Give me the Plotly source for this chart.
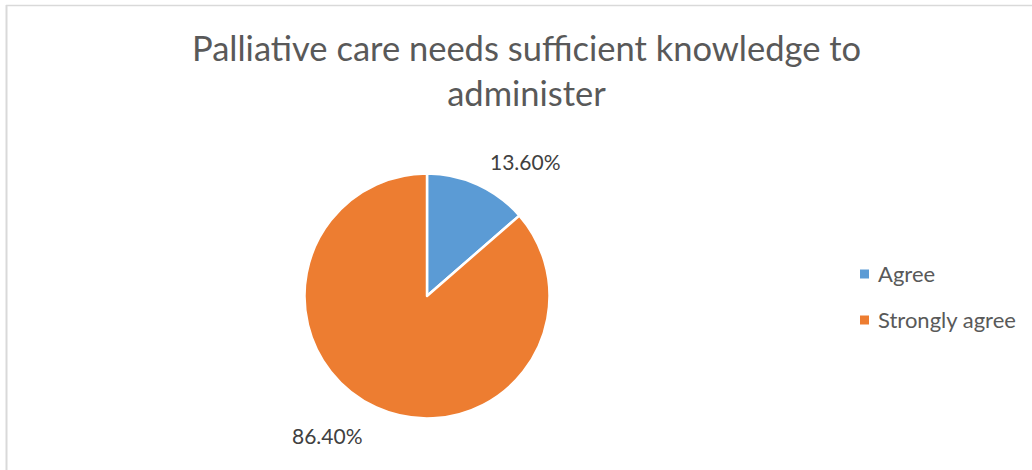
import plotly.graph_objects as go

# Survey responses
categories = ["Agree", "Strongly agree"]
shares = [13.6, 86.4]
slice_colors = ["#5B9BD5", "#ED7D31"]
title_lines = ["Palliative care needs sufficient knowledge to", "administer"]

W, H = 1032, 470


def px(x):
    return x / W


def py(y):
    return 1 - y / H


cx, cy, r = 427, 296, 122.5

fig = go.Figure(
    go.Pie(
        labels=categories,
        values=shares,
        sort=False,
        direction="clockwise",
        rotation=0,
        marker=dict(colors=slice_colors, line=dict(color="white", width=2.5)),
        textinfo="none",
        hoverinfo="label+percent",
        showlegend=False,
        domain=dict(x=[px(cx - r), px(cx + r)], y=[py(cy + r), py(cy - r)]),
    )
)

annotations = []
# title
annotations.append(dict(
    x=px(526), y=py(70), xref="paper", yref="paper",
    text="<br>".join(title_lines), showarrow=False,
    font=dict(family="Lato", size=34.5, color="#595959"),
    xanchor="center", yanchor="middle", align="center",
))

# percentage labels
label_pos = [(525, 161), (327, 435)]
for v, (lx, ly) in zip(shares, label_pos):
    annotations.append(dict(
        x=px(lx), y=py(ly), xref="paper", yref="paper",
        text=f"{v:.2f}%", showarrow=False,
        font=dict(family="Lato", size=21, color="#404040"),
        xanchor="center", yanchor="middle",
    ))

# legend entries
shapes = []
legend_y = [273, 319]
for name, col, ly in zip(categories, slice_colors, legend_y):
    shapes.append(dict(
        type="rect", xref="paper", yref="paper",
        x0=px(860), x1=px(869), y0=py(ly + 5.5), y1=py(ly - 3.5),
        fillcolor=col, line=dict(width=0),
    ))
    annotations.append(dict(
        x=px(876), y=py(ly), xref="paper", yref="paper",
        text=name, showarrow=False,
        font=dict(family="Lato", size=22, color="#595959"),
        xanchor="left", yanchor="middle",
    ))

# chart frame (left and top edges)
shapes.append(dict(type="line", xref="paper", yref="paper",
                   x0=px(6.5), x1=px(6.5), y0=0, y1=py(5),
                   line=dict(color="#D9D9D9", width=2)))
shapes.append(dict(type="line", xref="paper", yref="paper",
                   x0=px(6), x1=1, y0=py(5.5), y1=py(5.5),
                   line=dict(color="#D9D9D9", width=1.5)))

fig.update_layout(
    width=W, height=H,
    margin=dict(l=0, r=0, t=0, b=0),
    paper_bgcolor="white",
    plot_bgcolor="white",
    annotations=annotations,
    shapes=shapes,
)

fig.write_html("out.html")
